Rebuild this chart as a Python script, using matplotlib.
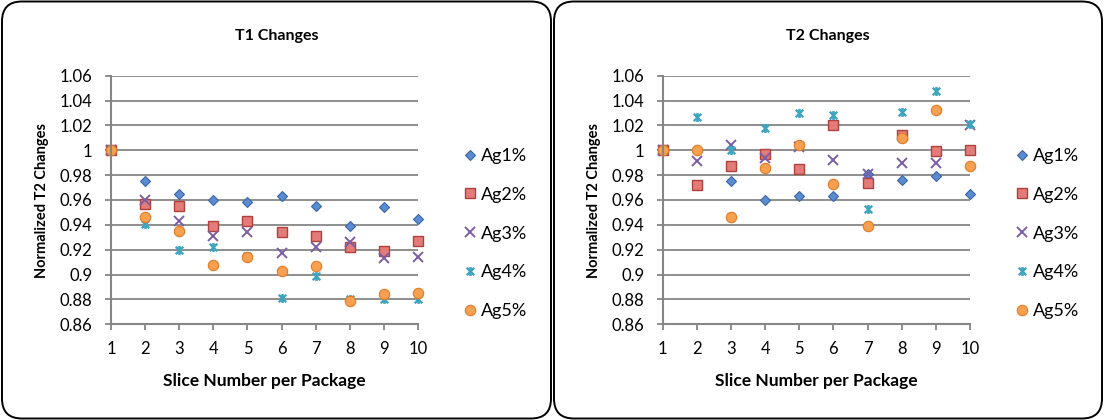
import matplotlib
matplotlib.use("Agg")
import matplotlib.pyplot as plt
from matplotlib.patches import FancyBboxPatch
from matplotlib.path import Path
from matplotlib.ticker import FuncFormatter, MultipleLocator

plt.rcParams['font.family'] = ['Lato', 'DejaVu Sans']

slices = [1, 2, 3, 4, 5, 6, 7, 8, 9, 10]
series_names = ["Ag1%", "Ag2%", "Ag3%", "Ag4%", "Ag5%"]

# T1 panel
t1_ag1 = [1.0, 0.975, 0.965, 0.960, 0.958, 0.963, 0.955, 0.939, 0.954, 0.945]
t1_ag2 = [1.0, 0.957, 0.955, 0.939, 0.943, 0.934, 0.931, 0.922, 0.919, 0.927]
t1_ag3 = [1.0, 0.960, 0.943, 0.931, 0.934, 0.917, 0.922, 0.926, 0.913, 0.914]
t1_ag4 = [1.0, 0.941, 0.920, 0.922, 0.915, 0.881, 0.899, 0.880, 0.880, 0.880]
t1_ag5 = [1.0, 0.946, 0.935, 0.908, 0.914, 0.903, 0.907, 0.879, 0.884, 0.885]

# T2 panel
t2_ag1 = [1.0, 1.000, 0.975, 0.960, 0.963, 0.963, 0.981, 0.976, 0.979, 0.965]
t2_ag2 = [1.0, 0.972, 0.987, 0.997, 0.985, 1.020, 0.974, 1.012, 0.999, 1.000]
t2_ag3 = [1.0, 0.991, 1.004, 0.994, 1.003, 0.992, 0.981, 0.990, 0.990, 1.020]
t2_ag4 = [1.0, 1.027, 1.000, 1.018, 1.030, 1.028, 0.953, 1.031, 1.048, 1.021]
t2_ag5 = [1.0, 1.000, 0.946, 0.986, 1.004, 0.973, 0.939, 1.010, 1.032, 0.987]

# excel-like star: an x with a vertical stroke through it
star = Path([(-1, -1), (1, 1), (-1, 1), (1, -1), (0, -1.2), (0, 1.2)],
            [Path.MOVETO, Path.LINETO, Path.MOVETO, Path.LINETO, Path.MOVETO, Path.LINETO])

styles = [
    dict(marker='D', ms=5.5, mfc='#5B8BD0', mec='#3A66A8', mew=0.8),
    dict(marker='s', ms=7, mfc='#E37C78', mec='#B0403C', mew=1.0),
    dict(marker='x', ms=6.5, mfc='#7B5DA3', mec='#7B5DA3', mew=1.4),
    dict(marker=star, ms=6.5, mfc='#3FA5BF', mec='#3FA5BF', mew=1.7),
    dict(marker='o', ms=7.5, mfc='#F7A04F', mec='#E07B26', mew=0.8),
]

W, H = 1104, 420
fig = plt.figure(figsize=(W / 100, H / 100), dpi=100)

grey = '#868686'


def fmt(v, pos):
    return f"{v:.2f}".rstrip('0').rstrip('.')


def panel(x0, x1, title, data, box_left, box_right, leg_x):
    fig.patches.append(FancyBboxPatch(
        (box_left / W, 1.5 / H), (box_right - box_left) / W, (H - 3) / H,
        boxstyle="round,pad=0,rounding_size=0.018", transform=fig.transFigure,
        fill=False, ec='black', lw=1.4, mutation_aspect=W / H))
    top, bot = 75.7, 324.2
    ax = fig.add_axes([x0 / W, (H - bot) / H, (x1 - x0) / W, (bot - top) / H])
    handles = []
    for vals, st, name in zip(data, styles, series_names):
        h, = ax.plot(slices, vals, ls='none', label=name, clip_on=False, **st)
        handles.append(h)
    ax.set_xlim(1, 10)
    ax.set_ylim(0.86, 1.06)
    ax.xaxis.set_major_locator(MultipleLocator(1))
    ax.yaxis.set_major_locator(MultipleLocator(0.02))
    ax.yaxis.set_major_formatter(FuncFormatter(fmt))
    ax.grid(axis='y', color=grey, lw=1.3)
    ax.set_axisbelow(True)
    for s in ['top', 'right']:
        ax.spines[s].set_visible(False)
    for s in ['left', 'bottom']:
        ax.spines[s].set_color(grey)
        ax.spines[s].set_linewidth(1.5)
    ax.tick_params(color=grey, width=1.3, length=4.3, labelsize=12)
    ax.tick_params(axis='x', pad=8)
    ax.tick_params(axis='y', pad=9)
    fig.text((box_left + box_right) / 2 / W, 1 - 36 / H, title, ha='center',
             va='center', fontsize=11.5, fontweight='bold')
    fig.text((x0 + x1) / 2 / W, 1 - 381 / H, "Slice Number per Package",
             ha='center', va='center', fontsize=12.5, fontweight='bold')
    fig.text((x0 - 69) / W, (H - 200) / H, "Normalized T2 Changes",
             ha='center', va='center', rotation=90, fontsize=10.5, fontweight='bold')
    fig.legend(handles=handles, loc='upper left',
               bbox_to_anchor=(leg_x / W, 1 - 148 / H), frameon=False,
               fontsize=13, labelspacing=1.26, handlelength=0.5,
               handletextpad=0.36, borderpad=0, borderaxespad=0)
    return ax


panel(111, 418, "T1 Changes", [t1_ag1, t1_ag2, t1_ag3, t1_ag4, t1_ag5], 2, 551, 465.5)
panel(662.7, 970, "T2 Changes", [t2_ag1, t2_ag2, t2_ag3, t2_ag4, t2_ag5], 554, 1102, 1017.5)

fig.savefig("out.png", dpi=100)
